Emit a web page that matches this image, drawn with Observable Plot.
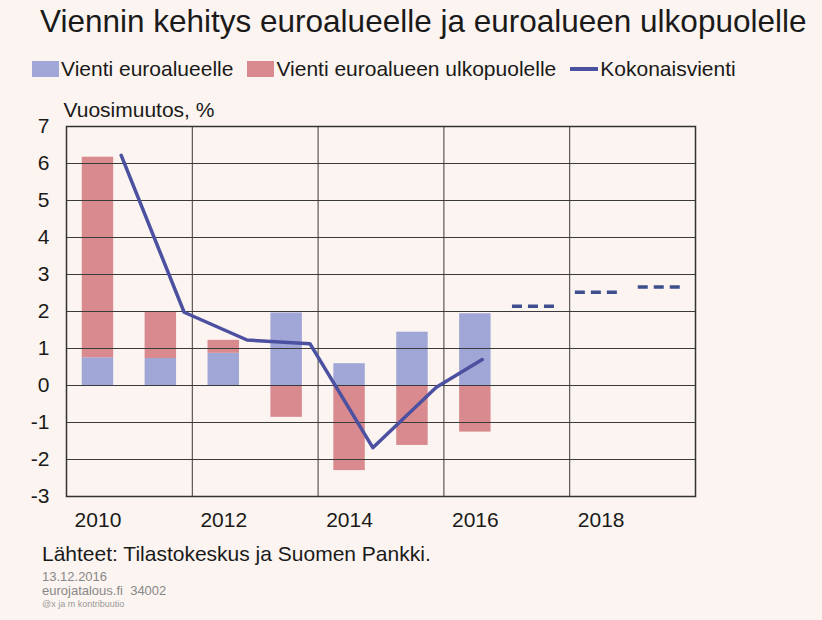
<!DOCTYPE html>
<html><head><meta charset="utf-8">
<script src="https://cdn.jsdelivr.net/npm/d3@7"></script>
<script src="https://cdn.jsdelivr.net/npm/@observablehq/plot@0.6"></script>
<style>
body{margin:0;background:#fcf4f0;font-family:"Liberation Sans",Arial,sans-serif;color:#1a1a1a}
#wrap{position:relative;width:822px;height:620px;background:#fcf4f0;overflow:hidden}
#title{position:absolute;left:40px;top:3px;font-size:31.5px;white-space:nowrap}
#legend{position:absolute;left:32px;top:57px;font-size:21px;display:flex;align-items:center;white-space:nowrap}
#legend .sw{display:inline-block;width:27px;height:16px;margin-right:2px}
#legend .ln{display:inline-block;width:28px;height:3.5px;margin-right:2px}
#legend .it{display:flex;align-items:center;margin-right:14px}
#chart{position:absolute;left:0;top:90px}
#cap{position:absolute;left:42px;top:542px;font-size:21px;white-space:nowrap}
#d1{position:absolute;left:42px;top:569px;font-size:13px;color:#888}
#d2{position:absolute;left:42px;top:583px;font-size:13px;color:#888}
#d3{position:absolute;left:42px;top:599px;font-size:9px;color:#999}
</style></head>
<body><div id="wrap">
<div id="title">Viennin kehitys euroalueelle ja euroalueen ulkopuolelle</div>
<div id="legend"></div>
<div id="chart"></div>
<div id="cap">Lähteet: Tilastokeskus ja Suomen Pankki.</div>
<div id="d1">13.12.2016</div>
<div id="d2">eurojatalous.fi&nbsp; 34002</div>
<div id="d3">@x ja m kontribuutio</div>
</div>
<script>
const years = [2010, 2011, 2012, 2013, 2014, 2015, 2016];
const euroArea = [0.75, 0.73, 0.87, 1.96, 0.59, 1.44, 1.94];
const outsideEuro = [5.42, 1.25, 0.35, -0.86, -2.30, -1.62, -1.26];
const lineX = [2010.37, 2011.37, 2012.37, 2013.37, 2014.37, 2015.38, 2016.11];
const totalExports = [6.22, 1.98, 1.23, 1.13, -1.68, -0.05, 0.70];
const forecastYears = [2017, 2018, 2019];
const forecastValues = [2.14, 2.52, 2.66];
const xTicks = [2010, 2012, 2014, 2016, 2018];
const yTicks = [-3, -2, -1, 0, 1, 2, 3, 4, 5, 6, 7];
const seriesNames = ["Vienti euroalueelle", "Vienti euroalueen ulkopuolelle", "Kokonaisvienti"];
const colors = {blue: "#a0a6d6", red: "#d98a8e", line: "#4b50a0", dash: "#3e4f8e"};

const bars = [];
years.forEach((yr, i) => {
  const e = euroArea[i], o = outsideEuro[i];
  bars.push({year: yr, y1: 0, y2: e, fill: colors.blue});
  if (o >= 0) bars.push({year: yr, y1: e, y2: e + o, fill: colors.red});
  else bars.push({year: yr, y1: 0, y2: o, fill: colors.red});
});
const line = lineX.map((x, i) => ({x, y: totalExports[i]}));
const fc = forecastYears.map((yr, i) => ({year: yr, y: forecastValues[i]}));

const leg = document.getElementById("legend");
leg.innerHTML =
  `<span class="it"><span class="sw" style="background:${colors.blue}"></span>${seriesNames[0]}</span>` +
  `<span class="it"><span class="sw" style="background:${colors.red}"></span>${seriesNames[1]}</span>` +
  `<span class="it"><span class="ln" style="background:${colors.line}"></span>${seriesNames[2]}</span>`;

const chart = Plot.plot({
  width: 822,
  height: 450,
  marginLeft: 66,
  marginRight: 127,
  marginTop: 36,
  marginBottom: 44,
  style: {background: "transparent", fontFamily: "Liberation Sans, Arial, sans-serif", fontSize: "21px", color: "#1a1a1a"},
  x: {domain: [2009.5, 2019.5], ticks: xTicks, tickFormat: d => String(d), tickSize: 0, tickPadding: 16, label: null},
  y: {domain: [-3, 7], ticks: yTicks, tickFormat: d => String(d), tickSize: 0, tickPadding: 17, label: null},
  marks: [
    Plot.rectY(bars, {x1: d => d.year - 0.25, x2: d => d.year + 0.25, y1: "y1", y2: "y2", fill: "fill"}),
    Plot.ruleY(yTicks.slice(1, -1), {stroke: "#3a3a3a", strokeWidth: 1}),
    Plot.ruleX([2011.5, 2013.5, 2015.5, 2017.5], {stroke: "#3a3a3a", strokeWidth: 1}),
    Plot.line(line, {x: "x", y: "y", stroke: colors.line, strokeWidth: 3.5}),
    Plot.ruleY(fc, {y: "y", x1: d => d.year - 0.41, x2: d => d.year + 0.27, stroke: colors.dash, strokeWidth: 3.5, strokeDasharray: "10,6"}),
    Plot.frame({stroke: "#333", strokeWidth: 1.5}),
    Plot.text(["Vuosimuutos, %"], {frameAnchor: "top-left", dx: -3, dy: -24, textAnchor: "start", fontSize: 21, fill: "#1a1a1a"})
  ]
});
document.getElementById("chart").appendChild(chart);
</script>
</body></html>
